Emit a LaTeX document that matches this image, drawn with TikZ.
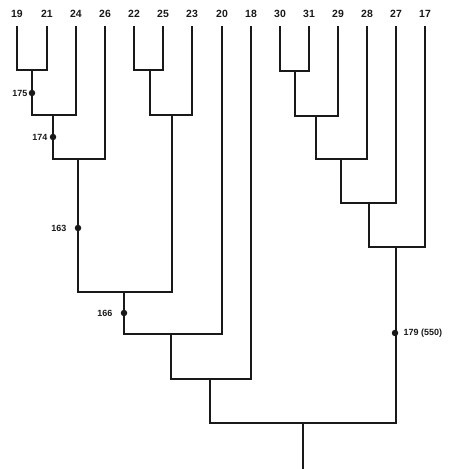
\documentclass[tikz,border=0pt]{standalone}
\usepackage{fontspec}
\setmainfont{Liberation Sans}
\usetikzlibrary{positioning}
\definecolor{ink}{RGB}{25,25,25}
\tikzset{
  leaf/.style={inner sep=0pt,minimum height=24bp,anchor=center,
    font=\fontsize{10.5}{11}\selectfont\bfseries,text=ink},
  branch/.style={draw=ink,line width=1.4bp},
  knot/.style={circle,fill=ink,inner sep=0pt,minimum size=6.5bp},
  tag/.style={font=\fontsize{9}{10}\selectfont\bfseries,text=ink,inner sep=1bp},
}
\begin{document}
\begin{tikzpicture}[x=1bp,y=-1bp]
  \useasboundingbox (0,0) rectangle (453,469);
  % taxa
  \node[leaf] (t19) at (17,14) {19};
  \node[leaf] (t21) at (47,14) {21};
  \node[leaf] (t24) at (76,14) {24};
  \node[leaf] (t26) at (105,14) {26};
  \node[leaf] (t22) at (134,14) {22};
  \node[leaf] (t25) at (163,14) {25};
  \node[leaf] (t23) at (192,14) {23};
  \node[leaf] (t20) at (222,14) {20};
  \node[leaf] (t18) at (251,14) {18};
  \node[leaf] (t30) at (280,14) {30};
  \node[leaf] (t31) at (309,14) {31};
  \node[leaf] (t29) at (338,14) {29};
  \node[leaf] (t28) at (367,14) {28};
  \node[leaf] (t27) at (396,14) {27};
  \node[leaf] (t17) at (425,14) {17};
  % junctions
  \coordinate (ja) at (32,70);
  \coordinate (jb) at (53,115);
  \coordinate (jc) at (78,159);
  \coordinate (jd) at (150,70);
  \coordinate (je) at (172,115);
  \coordinate (jf) at (124,292);
  \coordinate (jg) at (171,334);
  \coordinate (jh) at (210,379);
  \coordinate (jp) at (295,71);
  \coordinate (jq) at (316,116);
  \coordinate (jr) at (341,159);
  \coordinate (js) at (369,203);
  \coordinate (ju) at (396,247);
  \coordinate (root) at (303,423);
  \coordinate (base) at (303,469);
  % left clade
  \draw[branch] (t19.south) |- (ja) -| (t21.south);
  \draw[branch] (ja) |- (jb) -| (t24.south);
  \draw[branch] (jb) |- (jc) -| (t26.south);
  \draw[branch] (t22.south) |- (jd) -| (t25.south);
  \draw[branch] (jd) |- (je) -| (t23.south);
  \draw[branch] (jc) |- (jf) -| (je);
  \draw[branch] (jf) |- (jg) -| (t20.south);
  \draw[branch] (jg) |- (jh) -| (t18.south);
  % right clade
  \draw[branch] (t30.south) |- (jp) -| (t31.south);
  \draw[branch] (jp) |- (jq) -| (t29.south);
  \draw[branch] (jq) |- (jr) -| (t28.south);
  \draw[branch] (jr) |- (js) -| (t27.south);
  \draw[branch] (js) |- (ju) -| (t17.south);
  % root
  \draw[branch] (jh) |- (root) -| (ju);
  \draw[branch] (root) -- (base);
  % marked nodes
  \node[knot,label={[tag]left:175}] (n175) at (32,93) {};
  \node[knot,label={[tag,label distance=1bp]left:174}] (n174) at (53,137) {};
  \node[knot,label={[tag,label distance=7bp]left:163}] (n163) at (78,228) {};
  \node[knot,label={[tag,label distance=7bp]left:166}] (n166) at (124,313) {};
  \node[knot,label={[tag,label distance=4bp]right:179 (550)}] (n179) at (395,333) {};
\end{tikzpicture}
\end{document}
